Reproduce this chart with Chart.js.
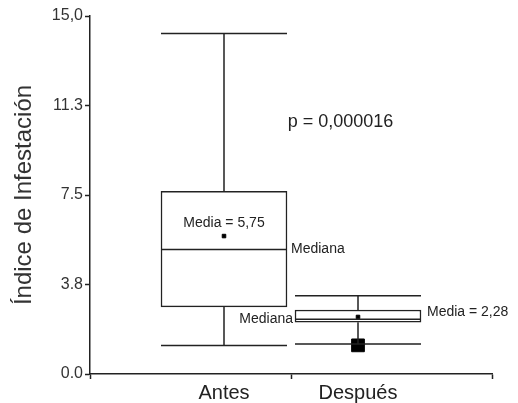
<!DOCTYPE html>
<html>
<head>
<meta charset="utf-8">
<script src="https://cdn.jsdelivr.net/npm/chart.js@4.4.1/dist/chart.umd.min.js"></script>
<style>
  html, body { margin: 0; padding: 0; background: #fff; }
</style>
</head>
<body>
<canvas id="boxChart" width="518" height="403"></canvas>
<script>
  // datos
  const grupos = ['Antes', 'Después'];
  const posiciones = [1, 2];
  const minimos = [1.19, 1.26];
  const q1 = [2.81, 2.17];
  const medianas = [5.22, 2.29];
  const q3 = [7.65, 2.68];
  const maximos = [14.27, 3.28];
  const medias = [5.78, 2.39];
  const mediaTextos = ['Media = 5,75', 'Media = 2,28'];
  const puntoGrande = [{ x: 2, y: 1.2 }];
  const yTicks = [0, 3.75, 7.5, 11.25, 15];
  const yTickLabels = ['0.0', '3.8', '7.5', '11.3', '15,0'];
  const xTicks = [0, 1, 1.5, 2, 3];
  const pValor = 'p = 0,000016';

  const FONT = "'Liberation Sans', Arial, sans-serif";
  const INK = '#222';

  const boxPlugin = {
    id: 'boxExtras',
    afterDatasetsDraw(chart) {
      const ctx = chart.ctx;
      const xs = chart.scales.x;
      const ys = chart.scales.y;
      const bars = chart.getDatasetMeta(0).data;
      ctx.save();
      ctx.strokeStyle = INK;
      ctx.lineWidth = 1.5;
      posiciones.forEach((p, i) => {
        const cx = xs.getPixelForValue(p);
        const half = bars[i].width / 2;
        const yMin = ys.getPixelForValue(minimos[i]);
        const yMax = ys.getPixelForValue(maximos[i]);
        const yQ1 = ys.getPixelForValue(q1[i]);
        const yQ3 = ys.getPixelForValue(q3[i]);
        const yMed = ys.getPixelForValue(medianas[i]);
        ctx.beginPath();
        // bigotes
        ctx.moveTo(cx, yQ3); ctx.lineTo(cx, yMax);
        ctx.moveTo(cx, yQ1); ctx.lineTo(cx, yMin);
        // topes
        ctx.moveTo(cx - half, yMax); ctx.lineTo(cx + half, yMax);
        ctx.moveTo(cx - half, yMin); ctx.lineTo(cx + half, yMin);
        // mediana
        ctx.moveTo(cx - half, yMed); ctx.lineTo(cx + half, yMed);
        ctx.stroke();
      });

      // textos
      ctx.fillStyle = INK;
      ctx.textBaseline = 'middle';
      ctx.font = '14px ' + FONT;
      const b0 = bars[0], b1 = bars[1];
      ctx.textAlign = 'center';
      ctx.fillText(mediaTextos[0], xs.getPixelForValue(posiciones[0]), ys.getPixelForValue(medias[0]) - 13);
      ctx.textAlign = 'left';
      ctx.fillText('Mediana', b0.x + b0.width / 2 + 4, ys.getPixelForValue(medianas[0]));
      ctx.fillText(mediaTextos[1], b1.x + b1.width / 2 + 6, ys.getPixelForValue(medias[1]) - 5);
      ctx.textAlign = 'right';
      ctx.fillText('Mediana', b1.x - b1.width / 2 - 2, ys.getPixelForValue(medianas[1]));
      ctx.font = '18px ' + FONT;
      ctx.textAlign = 'center';
      ctx.fillText(pValor, xs.getPixelForValue(1.87), ys.getPixelForValue(10.57));
      ctx.restore();
    }
  };

  new Chart(document.getElementById('boxChart'), {
    type: 'bar',
    data: {
      datasets: [
        {
          type: 'bar',
          label: 'Caja',
          data: posiciones.map((p, i) => ({ x: p, y: [q1[i], q3[i]] })),
          backgroundColor: '#ffffff',
          borderColor: INK,
          borderWidth: 1.5,
          borderSkipped: false,
          barThickness: 126,
          order: 3
        },
        {
          type: 'scatter',
          label: 'Media',
          data: posiciones.map((p, i) => ({ x: p, y: medias[i] })),
          pointStyle: 'rect',
          pointRadius: 2.5,
          backgroundColor: '#000',
          borderColor: '#000',
          borderWidth: 1,
          order: 1
        },
        {
          type: 'scatter',
          label: 'Extremo',
          data: puntoGrande,
          pointStyle: 'rect',
          pointRadius: 9,
          backgroundColor: '#000',
          borderColor: '#000',
          borderWidth: 1,
          order: 1
        }
      ]
    },
    options: {
      responsive: false,
      animation: false,
      devicePixelRatio: 1,
      layout: { padding: { top: 16, right: 26, left: 0, bottom: 0 } },
      plugins: {
        legend: { display: false },
        tooltip: { enabled: false }
      },
      scales: {
        x: {
          type: 'linear',
          min: 0,
          max: 3,
          offset: false,
          afterBuildTicks: (scale) => { scale.ticks = xTicks.map(v => ({ value: v })); },
          afterFit: (scale) => { scale.height = 29; },
          ticks: {
            autoSkip: false,
            maxRotation: 0,
            padding: 2,
            color: INK,
            font: { family: FONT, size: 20 },
            callback: (v) => v === 1 ? grupos[0] : (v === 2 ? grupos[1] : '')
          },
          grid: {
            drawOnChartArea: false,
            offset: false,
            tickLength: 5,
            tickWidth: 1.5,
            tickColor: (c) => (c.tick && (c.tick.value === 1 || c.tick.value === 2)) ? 'rgba(0,0,0,0)' : INK
          },
          border: { color: INK, width: 1.5 }
        },
        y: {
          min: 0,
          max: 15,
          afterBuildTicks: (scale) => { scale.ticks = yTicks.map(v => ({ value: v })); },
          afterFit: (scale) => { scale.width = 90; },
          ticks: {
            padding: 2,
            color: '#333',
            font: { family: FONT, size: 16 },
            callback: (v) => yTickLabels[yTicks.indexOf(v)]
          },
          grid: {
            drawOnChartArea: false,
            tickLength: 5,
            tickWidth: 1.5,
            tickColor: INK
          },
          border: { color: INK, width: 1.5 },
          title: {
            display: true,
            text: 'Índice de Infestación',
            color: '#333',
            font: { family: FONT, size: 24 },
            padding: { top: 10, bottom: 0 }
          }
        }
      }
    },
    plugins: [boxPlugin]
  });
</script>
</body>
</html>
